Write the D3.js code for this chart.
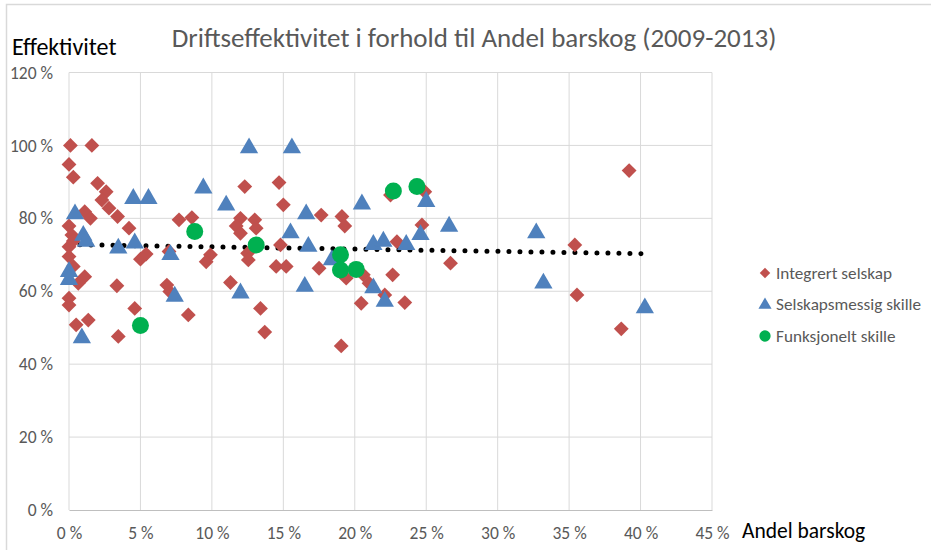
<!DOCTYPE html>
<html>
<head>
<meta charset="utf-8">
<script src="https://cdn.jsdelivr.net/npm/d3@7"></script>
<style>
  html, body { margin: 0; padding: 0; background: #fff; }
  svg { display: block; }
  text { font-family: Carlito, Lato, "Open Sans", sans-serif; }
</style>
</head>
<body>
<svg id="chart" width="931" height="550"></svg>
<script>
// ---- data (x = Andel barskog %, y = Effektivitet %) ----
const integrertX = [0.1,1.6,0.0,0.3,2.0,2.6,2.3,2.8,3.4,4.2,1.1,1.5,0.0,0.2,0.3,0.0,5.0,5.4,7.0,0.0,0.3,1.1,0.65,3.35,0.0,0.0,4.6,0.5,1.35,3.45,12.3,14.7,15.0,7.7,8.6,12.0,11.7,12.0,13.0,13.1,9.9,9.6,12.5,12.55,14.8,14.5,15.2,6.85,7.05,11.3,8.35,13.4,13.7,17.65,19.1,19.3,22.5,24.9,22.95,24.7,17.5,19.4,20.6,21.0,22.65,22.1,20.45,23.5,19.05,39.2,35.4,26.7,35.55,38.65];
const integrertY = [100,100,94.8,91.3,89.6,87.3,85.0,82.8,80.5,77.3,81.8,80.0,77.9,75.4,73.8,72.2,68.8,70.2,70.9,69.5,66.8,64.0,62.2,61.5,58.1,56.2,55.3,50.8,52.1,47.6,88.7,89.8,83.7,79.6,80.2,80.0,77.9,75.9,79.6,77.3,70.0,68.1,70.4,68.6,72.7,66.8,66.8,61.7,59.9,62.4,53.5,55.3,48.8,80.9,80.5,77.9,86.4,87.3,73.6,78.2,66.3,63.6,64.5,62.2,64.5,59.0,56.7,56.9,45.0,93.1,72.7,67.7,59.0,49.7];

const selskapX = [4.5,5.56,0.42,1.0,1.2,3.45,4.6,0.0,0.0,0.9,12.6,15.6,9.4,11.0,15.5,7.1,7.4,12.0,16.6,20.5,25.0,16.75,21.3,22.0,23.6,24.6,26.6,18.4,16.5,21.3,22.1,32.7,33.2,40.3];
const selskapY = [85.8,85.8,81.6,75.7,74.1,72.2,73.6,65.8,63.6,47.6,99.7,99.7,88.7,84.0,76.4,70.4,59.0,59.9,81.6,84.3,85.0,72.7,73.2,74.1,73.2,75.9,78.2,69.0,61.7,61.3,57.6,76.4,62.6,55.8];

const funksjoneltX = [8.8,13.1,5.0,19.0,19.0,20.1,22.7,24.35];
const funksjoneltY = [76.4,72.7,50.6,70.0,65.8,66.0,87.5,88.7];

// trendline endpoints
const trendX = [0, 40.3];
const trendY = [72.8, 70.3];

const xTicks = [0,5,10,15,20,25,30,35,40,45];
const yTicks = [0,20,40,60,80,100,120];

const seriesNames = ["Integrert selskap","Selskapsmessig skille","Funksjonelt skille"];
const seriesColors = ["#C0504D","#4F81BD","#00B050"];

// ---- layout ----
const svg = d3.select("#chart");
const x = d3.scaleLinear().domain([0,45]).range([69,712]);
const y = d3.scaleLinear().domain([0,120]).range([510,72.5]);
const FONT = "Carlito, Lato, 'Open Sans', sans-serif";

// outer border
svg.append("rect").attr("x",6.5).attr("y",4.5).attr("width",940).attr("height",560)
  .attr("fill","none").attr("stroke","#D9D9D9").attr("stroke-width",1.5);

// gridlines
svg.append("g").selectAll("line").data(yTicks.filter(d=>d>0)).join("line")
  .attr("x1",x(0)).attr("x2",x(45)).attr("y1",d=>y(d)).attr("y2",d=>y(d))
  .attr("stroke","#D9D9D9").attr("stroke-width",1);
svg.append("g").selectAll("line").data(xTicks).join("line")
  .attr("x1",d=>x(d)).attr("x2",d=>x(d)).attr("y1",y(0)).attr("y2",y(120))
  .attr("stroke","#D9D9D9").attr("stroke-width",1);

// x axis
const xAxis = d3.axisBottom(x).tickValues(xTicks).tickSize(0).tickPadding(17)
  .tickFormat(d => d + " %");
const gx = svg.append("g").attr("transform",`translate(0,${y(0)})`).call(xAxis);
gx.select(".domain").attr("stroke","#BFBFBF");
gx.selectAll("text").attr("fill","#595959").style("font-size","17.5px")
  .style("font-family",FONT);

// y axis
const yAxis = d3.axisLeft(y).tickValues(yTicks).tickSize(0).tickPadding(16)
  .tickFormat(d => d + " %");
const gy = svg.append("g").attr("transform",`translate(${x(0)},0)`).call(yAxis);
gy.select(".domain").remove();
gy.selectAll("text").attr("fill","#595959").style("font-size","17.5px")
  .style("font-family",FONT);

// trendline
svg.append("line")
  .attr("x1",x(trendX[0])).attr("y1",y(trendY[0]))
  .attr("x2",x(trendX[1])).attr("y2",y(trendY[1]))
  .attr("stroke","#000").attr("stroke-width",5)
  .attr("stroke-linecap","round").attr("stroke-dasharray","0 11");

// markers
const diamond = d3.symbol().type(d3.symbolSquare).size(110);
const tri = d3.symbol().type(d3.symbolTriangle).size(145);

const redData = integrertX.map((v,i)=>[v,integrertY[i]]);
const blueData = selskapX.map((v,i)=>[v,selskapY[i]]);
const greenData = funksjoneltX.map((v,i)=>[v,funksjoneltY[i]]);

svg.append("g").selectAll("path").data(redData).join("path")
  .attr("d",diamond)
  .attr("transform",d=>`translate(${x(d[0])},${y(d[1])}) rotate(45)`)
  .attr("fill",seriesColors[0]);

svg.append("g").selectAll("path").data(blueData).join("path")
  .attr("d",tri)
  .attr("transform",d=>`translate(${x(d[0])},${y(d[1])+1.5})`)
  .attr("fill",seriesColors[1]);

svg.append("g").selectAll("circle").data(greenData).join("circle")
  .attr("cx",d=>x(d[0])).attr("cy",d=>y(d[1])).attr("r",8.5)
  .attr("fill",seriesColors[2]);

// titles
svg.append("text").attr("x",474).attr("y",47).attr("text-anchor","middle")
  .attr("fill","#595959").style("font-size","27px")
  .text("Driftseffektivitet i forhold til Andel barskog (2009-2013)");
svg.append("text").attr("x",12).attr("y",55).attr("fill","#000")
  .style("font-size","24px").text("Effektivitet");
svg.append("text").attr("x",742).attr("y",538).attr("fill","#000")
  .style("font-size","21.5px").text("Andel barskog");

// legend
const legY = [273,304,336];
const lg = svg.append("g");
const legSyms = [d3.symbol().type(d3.symbolSquare).size(55), d3.symbol().type(d3.symbolTriangle).size(75), d3.symbol().type(d3.symbolCircle).size(100)];
seriesNames.forEach((name,i)=>{
  lg.append("path").attr("d",legSyms[i]())
    .attr("transform",`translate(765,${legY[i]+(i===1?1:0)})${i===0?" rotate(45)":""}`)
    .attr("fill",seriesColors[i]);
  lg.append("text").attr("x",776).attr("y",legY[i]).attr("dy","0.35em")
    .attr("fill","#595959").style("font-size","17.2px").text(name);
});
</script>
</body>
</html>
